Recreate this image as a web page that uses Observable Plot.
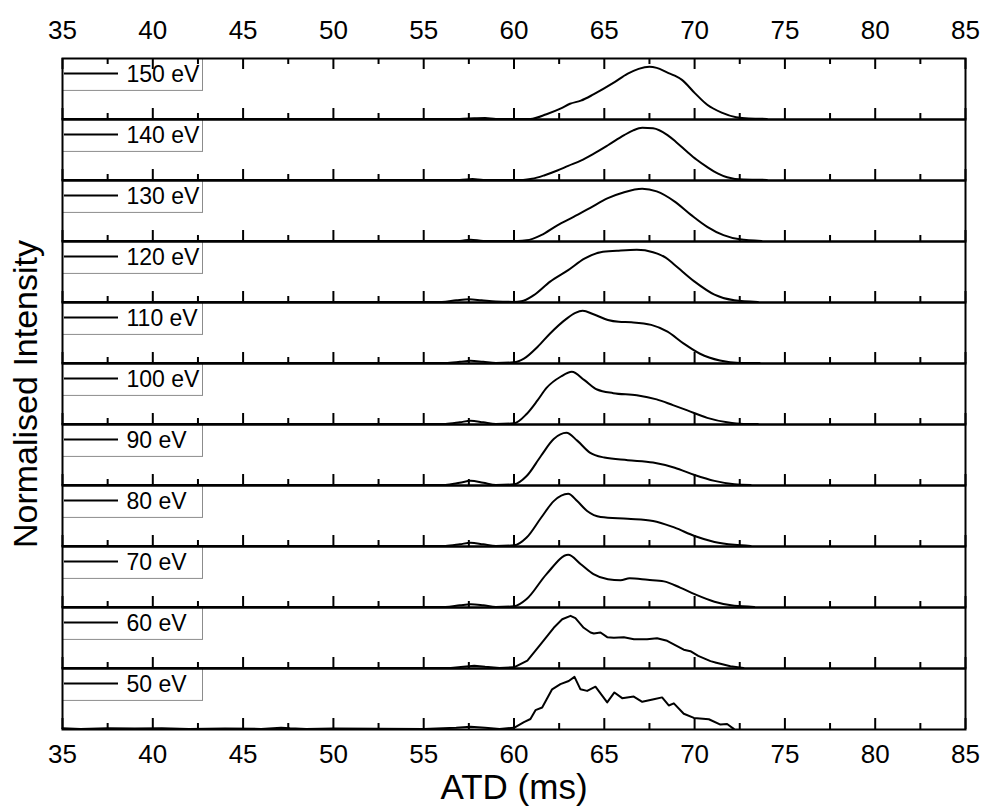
<!DOCTYPE html>
<html><head><meta charset="utf-8">
<script src="https://cdn.jsdelivr.net/npm/d3@7"></script>
<script src="https://cdn.jsdelivr.net/npm/@observablehq/plot@0.6"></script>
<style>body{margin:0;background:#fff}#chart{width:984px;height:809px}</style>
</head><body><div id="chart"></div>
<script>
// Collision energies (panels, top to bottom)
const energies = [150, 140, 130, 120, 110, 100, 90, 80, 70, 60, 50];
// x-axis tick values
const majorTicks = [35, 40, 45, 50, 55, 60, 65, 70, 75, 80, 85];
const minorTicks = [37.5, 42.5, 47.5, 52.5, 57.5, 62.5, 67.5, 72.5, 77.5, 82.5];

// Normalised ATD profiles: [ATD (ms), intensity]
const atd150 = [[35,0],[57,0],[57.8,0.01],[58.4,0.015],[59,0],[60.9,0],[61.8,0.09],[62.6,0.2],[63.1,0.29],[63.7,0.35],[64.4,0.47],[65.5,0.69],[66.3,0.87],[66.9,0.96],[67.5,1],[67.9,0.98],[68.5,0.89],[68.9,0.83],[69.3,0.75],[70,0.5],[70.7,0.27],[71.5,0.12],[72.3,0.03],[73,0.005],[74,0]];
const atd140 = [[35,0],[57,0],[57.7,0.015],[58.3,0],[60.5,0],[61,0.02],[61.7,0.09],[62.4,0.18],[63,0.27],[63.7,0.37],[64.4,0.5],[65.2,0.665],[66.1,0.86],[66.6,0.95],[67.1,1],[67.7,0.99],[68.5,0.86],[69,0.72],[69.6,0.535],[70.1,0.39],[70.7,0.245],[71.3,0.12],[71.8,0.05],[72.7,0.005],[74,0]];
const atd130 = [[35,0],[57,0],[57.6,0.02],[58.3,0],[60.2,0],[60.7,0.01],[61.5,0.11],[62.4,0.3],[63.3,0.46],[64.2,0.63],[65.2,0.82],[66.1,0.935],[67.1,1],[67.9,0.95],[68.9,0.755],[69.8,0.5],[70.7,0.27],[71.6,0.11],[72.5,0.03],[73.7,0]];
const atd120 = [[35,0],[56,0],[56.8,0.03],[57.5,0.05],[58.2,0.03],[59,0.005],[60,0],[60.4,0.01],[61.1,0.13],[62,0.39],[63,0.61],[63.9,0.83],[64.8,0.955],[65.7,0.98],[66.8,1],[67.7,0.955],[68.4,0.85],[68.9,0.71],[70,0.39],[71.1,0.14],[72.2,0.03],[73.5,0]];
const atd110 = [[35,0],[56.2,0],[57,0.02],[57.6,0.04],[58.3,0.02],[59,0],[60,0.01],[60.55,0.08],[61.3,0.305],[62,0.565],[62.9,0.845],[63.4,0.96],[63.8,1],[64.4,0.935],[65.2,0.825],[65.8,0.79],[66.5,0.78],[67.6,0.73],[68.5,0.6],[69.4,0.37],[70.3,0.175],[71.4,0.045],[72.5,0],[73.6,0]];
const atd100 = [[35,0],[56.2,0],[57,0.03],[57.6,0.06],[58.3,0.03],[59,0],[60,0.01],[60.7,0.19],[61.3,0.45],[61.8,0.69],[62.6,0.91],[63.2,1],[63.9,0.84],[64.6,0.66],[65.5,0.59],[66.8,0.55],[67.9,0.47],[68.8,0.36],[69.6,0.26],[70.7,0.116],[71.8,0.03],[72.7,0],[73.5,0]];
const atd90 = [[35,0],[56.2,0],[57,0.04],[57.6,0.077],[58.3,0.04],[59,0],[60,0.01],[60.7,0.17],[61.5,0.56],[62.2,0.88],[62.9,1],[63.5,0.85],[64.2,0.62],[65,0.525],[66.3,0.475],[67.7,0.43],[68.9,0.33],[70,0.19],[71.1,0.077],[72.2,0.013],[73.1,0]];
const atd80 = [[35,0],[56.2,0],[57,0.03],[57.6,0.06],[58.3,0.03],[59,0],[60,0.01],[60.7,0.16],[61.5,0.54],[62.2,0.86],[63,1],[63.5,0.86],[64.05,0.67],[64.8,0.555],[66.3,0.52],[67.7,0.48],[68.9,0.35],[70,0.19],[71.1,0.076],[72.2,0.02],[73.1,0]];
const atd70 = [[35,0],[56.2,0],[57,0.03],[57.6,0.05],[58.3,0.03],[59,0],[60,0.01],[60.7,0.15],[61.8,0.63],[63,1],[63.7,0.82],[64.4,0.63],[65.2,0.53],[65.9,0.51],[66.4,0.55],[67.4,0.52],[68.3,0.49],[69.2,0.37],[70,0.245],[71.1,0.1],[72.2,0.02],[73.3,0]];
const atd60 = [[35,0],[56.5,0],[57.2,0.02],[57.8,0.04],[58.4,0.02],[59.2,0],[60,0.01],[60.74,0.14],[61.47,0.45],[62.2,0.77],[62.67,0.935],[63.13,1],[63.4,0.955],[63.86,0.77],[64.24,0.68],[64.42,0.66],[64.79,0.68],[65.16,0.59],[65.53,0.58],[66.08,0.59],[66.64,0.55],[67.37,0.55],[67.92,0.57],[68.48,0.52],[69.03,0.42],[69.4,0.35],[69.77,0.32],[70.2,0.23],[70.88,0.13],[71.2,0.1],[71.43,0.08],[71.98,0.03],[72.7,0]];
const atd50 = [[35,0.01],[36,0],[37.5,0.01],[39,0.005],[40.5,0.01],[42,0],[44,0.005],[46,0],[47.1,0.02],[47.6,0.01],[48.5,0],[50,0.005],[55,0],[56.8,0.02],[57.6,0.04],[58.4,0.02],[59.2,0],[60,0.02],[60.55,0.13],[60.91,0.19],[61.19,0.36],[61.56,0.41],[62.11,0.76],[62.57,0.86],[63.03,0.92],[63.35,1],[63.68,0.76],[64.05,0.73],[64.51,0.81],[65.16,0.51],[65.56,0.7],[65.99,0.59],[66.63,0.62],[67.1,0.52],[67.74,0.57],[68.2,0.605],[68.57,0.45],[68.85,0.49],[69.4,0.29],[69.96,0.21],[70.79,0.185],[71.43,0.083],[71.8,0.095],[72.17,0]];

const profiles = [atd150, atd140, atd130, atd120, atd110, atd100, atd90, atd80, atd70, atd60, atd50];
const rows = energies.flatMap((e, i) => profiles[i].map(([x, y]) => ({energy: e, x, y})));
// bottom ticks in every panel; top ticks only on the top panel (the top axis)
const majorRows = energies.flatMap(e => majorTicks.map(t => ({energy: e, t})));
const minorRows = energies.flatMap(e => minorTicks.map(t => ({energy: e, t})));
const topMajor = majorTicks.map(t => ({energy: energies[0], t}));
const topMinor = minorTicks.map(t => ({energy: energies[0], t}));

const W = 984, H = 809, mt = 57, mb = 80, ml = 62, mr = 19;
const ph = (H - mt - mb) / energies.length;   // panel height in px
const fw = W - ml - mr;                        // frame width in px
const yDomain = [-0.012, 1.16];
const k = (yDomain[1] - yDomain[0]) / ph;      // y units per pixel
const majorLen = 11 * k, minorLen = 6 * k;
const font = "'Liberation Sans', Arial, Helvetica, sans-serif";
const tickStyle = {stroke: "#000", strokeWidth: 2};

const chart = Plot.plot({
  width: W, height: H,
  marginTop: mt, marginBottom: mb, marginLeft: ml, marginRight: mr,
  style: {fontFamily: font, fontSize: "24px", color: "#000", background: "#fff"},
  x: {domain: [35, 85]},
  y: {domain: yDomain, axis: null},
  fy: {domain: energies, padding: 0},
  marks: [
    Plot.frame({fill: "white", stroke: "#8c8c8c", strokeWidth: 1, insetRight: fw - 140, insetBottom: ph - 32}),
    Plot.ruleY([yDomain[1]], {dy: 15, insetLeft: 2, insetRight: fw - 56, stroke: "#000", strokeWidth: 2}),
    Plot.text(energies, {fy: d => d, text: d => `${d} eV`, frameAnchor: "top-left", dx: 64, dy: 16, textAnchor: "start", lineAnchor: "middle", fontSize: 23, fill: "#000"}),
    Plot.line(rows.filter(d => d.energy >= 70), {x: "x", y: "y", fy: "energy", z: "energy", stroke: "#000", strokeWidth: 2, curve: "monotone-x"}),
    Plot.line(rows.filter(d => d.energy < 70), {x: "x", y: "y", fy: "energy", z: "energy", stroke: "#000", strokeWidth: 2, curve: "linear"}),
    Plot.ruleX(topMajor, {x: "t", fy: "energy", y1: yDomain[1], y2: yDomain[1] - majorLen, ...tickStyle}),
    Plot.ruleX(topMinor, {x: "t", fy: "energy", y1: yDomain[1], y2: yDomain[1] - minorLen, ...tickStyle}),
    Plot.ruleX(majorRows, {x: "t", fy: "energy", y1: yDomain[0], y2: yDomain[0] + majorLen, ...tickStyle}),
    Plot.ruleX(minorRows, {x: "t", fy: "energy", y1: yDomain[0], y2: yDomain[0] + minorLen, ...tickStyle}),
    Plot.frame({stroke: "#000", strokeWidth: 2}),
    Plot.axisX(majorTicks, {anchor: "top", tickSize: 0, tickPadding: 20, label: null, fontSize: 26}),
    Plot.axisX(majorTicks, {anchor: "bottom", tickSize: 0, tickPadding: 15, label: null, fontSize: 26}),
    Plot.axisX({anchor: "bottom", ticks: [], tickSize: 0, label: "ATD (ms)", labelArrow: "none", labelAnchor: "center", labelOffset: 69, fontSize: 35}),
    Plot.axisFy({anchor: "left", ticks: [], tickSize: 0, label: "Normalised Intensity", labelArrow: "none", labelAnchor: "center", labelOffset: 50, fontSize: 34})
  ]
});
document.getElementById("chart").append(chart);
</script>
</body></html>
